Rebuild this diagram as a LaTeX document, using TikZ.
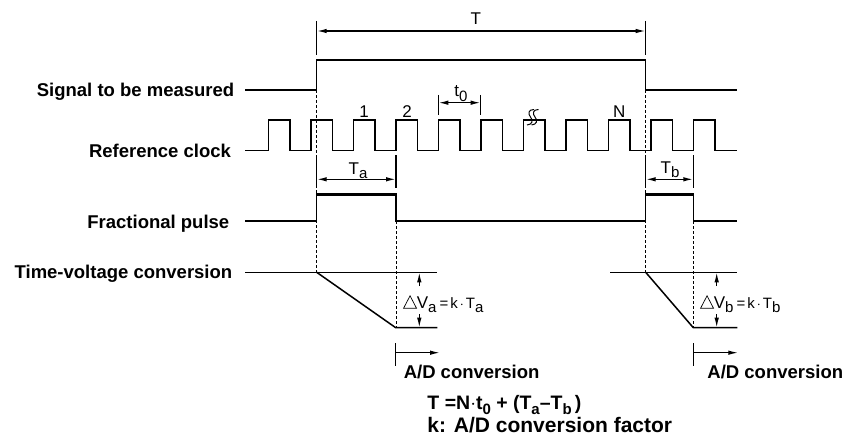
\documentclass[tikz,border=0pt]{standalone}
\usepackage{fontspec}
\usepackage{graphicx}
\setmainfont{Liberation Sans}
\usetikzlibrary{arrows.meta}
\newcommand\lsub[1]{\raisebox{-0.25em}{\fontsize{15}{15}\selectfont #1}}
\newcommand\tri{\tikz[baseline=0pt]\draw[line width=0.7pt,line join=miter] (0pt,0pt)--(13pt,0pt)--(6.5pt,12.5pt)--cycle;}
\begin{document}
\begin{tikzpicture}[x=1pt,y=-1pt,line width=1.5pt,
  sig/.style={line width=1.5pt,line join=miter},
  guide/.style={densely dashed,line width=0.6pt},
  dim/.style={line width=1.4pt,{Latex[length=10pt,width=4.5pt]}-{Latex[length=10pt,width=4.5pt]}},
  onearrow/.style={line width=1.3pt,-{Latex[length=10pt,width=4.5pt]}},
  lbl/.style={font=\fontsize{18.5}{20}\selectfont\bfseries,inner sep=0pt},
  txt/.style={font=\fontsize{17}{20}\selectfont,inner sep=0pt}]
\useasboundingbox (0,0) rectangle (847,444);

% left labels
\node[lbl,anchor=base east] (lsig) at (235,96.5) {Signal to be measured};
\node[lbl,anchor=base east] (lclk) at (231.7,157.3) {Reference clock};
\node[lbl,anchor=base east] (lfrac) at (230,228.5) {Fractional pulse};
\node[lbl,anchor=base east] (ltv) at (233,278.3) {Time-voltage conversion};

% guide lines
\draw[guide] (316.7,90) -- (316.7,272.3);
\draw[guide] (645.7,90) -- (645.7,272.3);
\draw[guide] (396,221) -- (396,327.7);
\draw[guide] (693.3,221) -- (693.3,327.7);

% T dimension
\draw (316.7,21) -- (316.7,55);
\draw (645.7,21) -- (645.7,55);
\draw[dim] (316.7,31) -- (645.7,31);
\node[txt,anchor=base] (lT) at (475.7,25) {T};

% signal
\draw[sig] (245,90) -- (316.7,90) -- (316.7,60) -- (645.7,60) -- (645.7,90) -- (736.7,90);

% reference clock
\draw[sig] (245,150.7) \foreach \k in {0,...,10}{ -- ({268.3+42.5*\k},150.7) -- ({268.3+42.5*\k},120) -- ({289.8+42.5*\k},120) -- ({289.8+42.5*\k},150.7)} -- (736.7,150.7);
\node[txt,anchor=base] (n1) at (364,117.3) {1};
\node[txt,anchor=base] (n2) at (407,117.3) {2};
\node[txt,anchor=base] (nN) at (619.3,117.3) {N};
% break mark
\draw[line width=1pt] (534,109.5) .. controls (528.5,109.5) and (527.5,113.5) .. (530.5,117) .. controls (533.5,120.5) and (532.5,124.5) .. (527,125);
\draw[line width=1pt] (538.5,109.5) .. controls (533,109.5) and (532,113.5) .. (535,117) .. controls (538,120.5) and (537,124.5) .. (531.5,125);

% t0 dimension
\draw (438.3,95) -- (438.3,115);
\draw (480.7,95) -- (480.7,115);
\draw[dim] (438.3,102.7) -- (480.7,102.7);
\node[txt,anchor=base] (lt0) at (461,97) {t\lsub{0}};

% Ta, Tb dimensions
\draw (316.7,155) -- (316.7,188);
\draw (396,155) -- (396,188);
\draw[dim] (316.7,179.3) -- (396,179.3);
\node[txt,anchor=base] (lTa) at (358,174.5) {T\lsub{a}};
\draw (645.7,155) -- (645.7,188);
\draw (693.3,155) -- (693.3,188);
\draw[dim] (645.7,179.3) -- (693.3,179.3);
\node[txt,anchor=base] (lTb) at (670,173.5) {T\lsub{b}};

% fractional pulse
\draw[sig] (245,221) -- (316.7,221) -- (316.7,193.3) -- (396,193.3) -- (396,221) -- (645.7,221) -- (645.7,193.3) -- (693.3,193.3) -- (693.3,221) -- (736.7,221);
\draw[line width=3.8pt] (316.7,194.4) -- (396,194.4);
\draw[line width=3.8pt] (645.7,194.4) -- (693.3,194.4);

% time-voltage conversion
\draw[sig] (245,272.3) -- (437.3,272.3);
\draw[sig] (316.7,272.3) -- (395.7,327.7) -- (437.3,327.7);
\draw[sig] (610,272.3) -- (737.3,272.3);
\draw[sig] (645.7,272.3) -- (693.3,327.7) -- (737.3,327.7);
\draw[onearrow] (419.3,286) -- (419.3,272.3);
\draw[onearrow] (419.3,314) -- (419.3,327.7);
\draw[onearrow] (716.7,286) -- (716.7,272.3);
\draw[onearrow] (716.7,314) -- (716.7,327.7);
\node[txt,anchor=base west] (dVa) at (403,308.3) {\tri V\lsub{a}\hspace{3pt}{\fontsize{15}{15}\selectfont =\hspace{2pt}k\hspace{2pt}$\cdot$\hspace{2pt}T}\lsub{a}};
\node[txt,anchor=base west] (dVb) at (700,308.3) {\tri V\lsub{b}\hspace{3pt}{\fontsize{15}{15}\selectfont =\hspace{2pt}k\hspace{2pt}$\cdot$\hspace{2pt}T}\lsub{b}};

% A/D conversion
\draw (395.7,343) -- (395.7,366);
\draw[onearrow] (395.7,352.7) -- (440,352.7);
\node[lbl,anchor=base west] (ada) at (403,378) {A/D conversion};
\draw (693.3,343) -- (693.3,366);
\draw[onearrow] (693.3,352.7) -- (738.3,352.7);
\node[lbl,anchor=base west] (adb) at (706.7,378) {A/D conversion};

% formula
\node[lbl,anchor=base west,font=\fontsize{19.5}{20}\selectfont\bfseries] (f1) at (426.7,409.5) {T =N$\cdot$t\lsub{0} + (T\lsub{a}–T\lsub{b}\,)};
\node[lbl,anchor=base west,font=\fontsize{21}{22}\selectfont\bfseries] (f2) at (426.7,432.5) {k: A/D conversion factor};
\end{tikzpicture}
\end{document}
